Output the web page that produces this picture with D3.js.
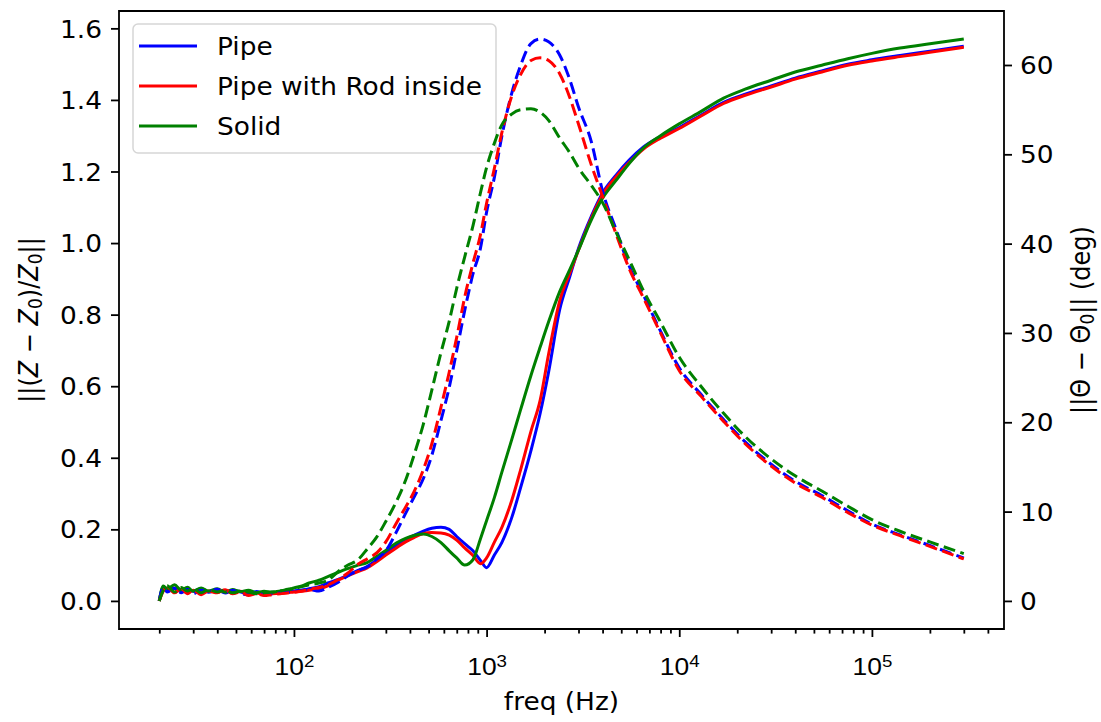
<!DOCTYPE html>
<html>
<head>
<meta charset="utf-8">
<script src="https://cdn.jsdelivr.net/npm/d3@7"></script>
<style>
body{margin:0;background:#fff;}
svg{display:block;font-family:"DejaVu Sans",sans-serif;}
</style>
</head>
<body>
<svg id="chart"></svg>
<script>
// frequencies (Hz), shared by every series
const freq=[20,21,22,24,26,28,30,33,36,40,44,48,53,58,64,70,77,85,93,100,
  110,120,135,150,170,190,215,240,270,300,340,380,420,470,520,580,640,700,770,850,
  930,1000,1100,1200,1350,1500,1700,1900,2100,2400,2700,3000,3500,4000,4700,5500,6500,8000,10000,13000,
  17000,22000,30000,40000,55000,75000,100000,140000,200000,300000];

// ||(Z-Z0)/Z0||  (solid, left axis)
const pipeZ=[0,.038,.030,.036,.025,.032,.027,.035,.024,.031,
  .022,.030,.025,.020,.026,.022,.024,.022,.026,.028,
  .030,.034,.040,.050,.060,.072,.085,.096,.115,.133,
  .155,.172,.183,.195,.203,.206,.200,.180,.160,.140,
  .113,.093,.129,.163,.232,.315,.420,.525,.640,.815,
  .905,.985,1.075,1.140,1.190,1.232,1.268,1.298,1.323,1.358,
  1.393,1.416,1.439,1.461,1.481,1.500,1.512,1.524,1.536,1.550];
const rodZ=[0,.030,.036,.024,.033,.022,.030,.020,.028,.024,
  .031,.021,.027,.019,.022,.018,.020,.021,.023,.025,
  .027,.030,.033,.042,.058,.070,.082,.092,.110,.128,
  .148,.165,.177,.188,.191,.190,.184,.170,.148,.127,
  .104,.120,.165,.205,.280,.365,.474,.562,.690,.840,
  .915,.980,1.070,1.135,1.185,1.225,1.262,1.293,1.320,1.355,
  1.390,1.413,1.436,1.458,1.478,1.497,1.509,1.521,1.533,1.547];
const solidZ=[0,.042,.033,.045,.030,.038,.027,.036,.028,.034,
  .024,.032,.026,.030,.023,.027,.024,.028,.030,.036,
  .042,.050,.058,.068,.080,.090,.100,.107,.125,.141,
  .162,.175,.183,.187,.180,.163,.140,.120,.100,.115,
  .174,.224,.290,.359,.450,.533,.630,.710,.780,.865,
  .925,.980,1.065,1.125,1.175,1.222,1.265,1.300,1.333,1.368,
  1.405,1.430,1.455,1.478,1.497,1.515,1.530,1.545,1.557,1.570];

// ||Theta-Theta0|| in deg (dashed, right axis)
const pipeTh=[0,1.5,1.0,1.4,0.9,1.3,0.8,1.2,1.0,1.3,
  0.9,1.2,0.8,0.7,0.9,0.7,0.8,0.9,1.0,1.1,
  1.2,1.3,1.1,1.5,2.1,2.8,3.4,3.8,4.7,5.6,
  7.7,9.8,11.6,13.7,16.3,20.2,23.9,28.0,32.5,36.6,
  39.5,43.5,47.5,52.0,56.8,59.9,62.4,62.9,62.6,61.1,
  58.4,55.3,51.4,45.9,41.6,37.5,34.3,30.2,26.1,23.1,
  20.3,17.8,15.3,13.4,11.8,10.1,8.6,7.4,6.2,4.8];
const rodTh=[0,1.1,1.6,0.9,1.4,0.8,1.2,0.7,1.1,0.9,
  1.3,0.8,1.0,0.6,0.8,0.6,0.7,0.8,0.9,1.0,
  1.1,1.3,1.5,1.8,2.4,3.1,4.1,4.7,5.4,6.6,
  8.7,10.5,12.2,14.7,17.6,21.7,25.6,29.5,34.0,37.8,
  41.0,44.5,48.5,52.4,56.5,58.9,60.5,60.8,60.5,59.0,
  56.4,53.4,48.8,45.3,41.1,37.2,34.0,30.0,25.8,22.9,
  20.1,17.6,15.1,13.2,11.6,9.9,8.5,7.3,6.1,4.7];
const solidTh=[0,1.2,1.7,1.0,1.5,1.1,1.4,0.9,1.3,1.0,
  1.2,0.9,1.1,1.0,0.8,0.9,1.0,1.1,1.3,1.4,
  1.6,1.8,2.0,2.3,3.3,4.0,4.6,5.8,7.2,8.9,
  11.1,13.5,16.3,19.8,23.6,27.8,31.3,35.0,38.5,42.0,
  45.7,48.5,51.3,53.3,54.5,55.0,55.1,54.7,53.8,51.8,
  50.2,48.5,46.5,44.6,41.3,38.2,34.8,31.2,27.3,24.0,
  21.0,18.4,15.9,14.0,12.3,10.6,9.1,7.8,6.6,5.3];

const names=["Pipe","Pipe with Rod inside","Solid"];
const colors=["blue","red","green"];
const zSeries=[pipeZ,rodZ,solidZ];
const thSeries=[pipeTh,rodTh,solidTh];

const leftTicks=[0,0.2,0.4,0.6,0.8,1.0,1.2,1.4,1.6];
const rightTicks=[0,10,20,30,40,50,60];
const xTicks=[1e2,1e3,1e4,1e5];

let W=1101,H=722;
const SX=1.1; // the reference is a bit wider than tall, text included
const sx=v=>v/SX;

let svg=d3.select('#chart')
  .attr('width',W).attr('height',H)
  .attr('viewBox',`0 0 ${W/SX} ${H}`)
  .attr('preserveAspectRatio','none');

const mLeft=119,mRight=1004,mTop=11,mBottom=629;

// matplotlib-like 5% margins
function pad(lo,hi){let p=(hi-lo)*0.05;return [lo-p,hi+p];}

let lx=pad(Math.log10(d3.min(freq)),Math.log10(d3.max(freq)));
let x=d3.scaleLog().domain([10**lx[0],10**lx[1]]).range([sx(mLeft),sx(mRight)]);
let yL=d3.scaleLinear().domain(pad(d3.min(zSeries.flat()),d3.max(zSeries.flat()))).range([mBottom,mTop]);
let yR=d3.scaleLinear().domain(pad(d3.min(thSeries.flat()),d3.max(thSeries.flat()))).range([mBottom,mTop]);

// minor log ticks
let xMinor=[];
for(let e=1;e<=5;e++){
  for(let m=2;m<=9;m++){
    let v=m*10**e;
    if(v>x.domain()[0]&&v<x.domain()[1]) xMinor.push(v);
  }
}

function styleAxis(g){
  g.select('.domain').remove();
  g.selectAll('.tick line').attr('stroke','#000').attr('stroke-width',1.8).attr('vector-effect','non-scaling-stroke');
  g.selectAll('.tick text').attr('fill','#000').attr('font-size',24).attr('font-family','"DejaVu Sans",sans-serif');
}

// x axis
let gxm=svg.append('g').attr('transform',`translate(0,${mBottom})`)
  .call(d3.axisBottom(x).tickValues(xMinor).tickSize(4.6).tickFormat(''));
styleAxis(gxm);
gxm.selectAll('.tick text').remove();

let gx=svg.append('g').attr('transform',`translate(0,${mBottom})`)
  .call(d3.axisBottom(x).tickValues(xTicks).tickSize(8).tickFormat(''));
styleAxis(gx);
gx.selectAll('.tick text').remove();
gx.selectAll('.tick').append('text')
  .attr('y',46).attr('fill','#000').attr('font-size',24).attr('text-anchor','middle')
  .each(function(d){
    let t=d3.select(this);
    t.append('tspan').text('10');
    t.append('tspan').attr('font-size',17).attr('dy',-8).text(Math.round(Math.log10(d)));
  });

// left axis
let gyl=svg.append('g').attr('transform',`translate(${sx(mLeft)},0)`)
  .call(d3.axisLeft(yL).tickValues(leftTicks).tickSize(sx(8)).tickPadding(sx(9)).tickFormat(d3.format('.1f')));
styleAxis(gyl);
gyl.selectAll('.tick text').attr('dy','0.36em');

// right axis
let gyr=svg.append('g').attr('transform',`translate(${sx(mRight)},0)`)
  .call(d3.axisRight(yR).tickValues(rightTicks).tickSize(sx(8)).tickPadding(sx(8)).tickFormat(d3.format('d')));
styleAxis(gyr);
gyr.selectAll('.tick text').attr('dy','0.36em');

// solid lines (left axis)
let lineZ=d3.line().x((d,i)=>x(freq[i])).y(d=>yL(d)).curve(d3.curveMonotoneX);
svg.append('g').selectAll('path').data(zSeries).join('path')
  .attr('d',d=>lineZ(d))
  .attr('fill','none')
  .attr('stroke',(d,i)=>colors[i])
  .attr('stroke-width',3)
  .attr('stroke-linejoin','round')
  .attr('vector-effect','non-scaling-stroke');

// legend
let leg=svg.append('g');
leg.append('rect')
  .attr('x',sx(133)).attr('y',24).attr('width',sx(363)).attr('height',129)
  .attr('rx',sx(5)).attr('ry',5)
  .attr('fill','#fff').attr('fill-opacity',0.8)
  .attr('stroke','#d6d6d6').attr('stroke-width',1.5)
  .attr('vector-effect','non-scaling-stroke');
names.forEach((n,i)=>{
  let ly=46+i*40;
  leg.append('line')
    .attr('x1',sx(139)).attr('x2',sx(197)).attr('y1',ly).attr('y2',ly)
    .attr('stroke',colors[i]).attr('stroke-width',3)
    .attr('vector-effect','non-scaling-stroke');
  leg.append('text')
    .attr('x',sx(217)).attr('y',ly+9)
    .attr('font-size',24).attr('fill','#000')
    .text(n);
});

// dashed lines (right axis)
let lineTh=d3.line().x((d,i)=>x(freq[i])).y(d=>yR(d)).curve(d3.curveMonotoneX);
svg.append('g').selectAll('path').data(thSeries).join('path')
  .attr('d',d=>lineTh(d))
  .attr('fill','none')
  .attr('stroke',(d,i)=>colors[i])
  .attr('stroke-width',3)
  .attr('stroke-dasharray','12,5.5')
  .attr('vector-effect','non-scaling-stroke');

// frame
svg.append('rect')
  .attr('x',sx(mLeft)).attr('y',mTop)
  .attr('width',sx(mRight-mLeft)).attr('height',mBottom-mTop)
  .attr('fill','none').attr('stroke','#000').attr('stroke-width',1.8)
  .attr('vector-effect','non-scaling-stroke');

// axis labels
svg.append('text')
  .attr('x',sx((mLeft+mRight)/2)).attr('y',710)
  .attr('text-anchor','middle').attr('font-size',24).attr('fill','#000')
  .text('freq (Hz)');

let yl=svg.append('text')
  .attr('transform',`translate(${sx(38)},320) rotate(-90)`)
  .attr('text-anchor','middle').attr('font-size',24).attr('fill','#000');
yl.append('tspan').text('||(');
yl.append('tspan').attr('font-style','italic').text('Z');
yl.append('tspan').text(' − ');
yl.append('tspan').attr('font-style','italic').text('Z');
yl.append('tspan').attr('font-size',17).attr('dy',4).text('0');
yl.append('tspan').attr('dy',-4).text(')/');
yl.append('tspan').attr('font-style','italic').text('Z');
yl.append('tspan').attr('font-size',17).attr('dy',4).text('0');
yl.append('tspan').attr('dy',-4).text('||');

let yr=svg.append('text')
  .attr('transform',`translate(${sx(1090)},320) rotate(-90)`)
  .attr('text-anchor','middle').attr('font-size',24).attr('fill','#000');
yr.append('tspan').text('||Θ − Θ');
yr.append('tspan').attr('font-size',17).attr('dy',4).text('0');
yr.append('tspan').attr('dy',-4).text('|| (deg)');
</script>
</body>
</html>
